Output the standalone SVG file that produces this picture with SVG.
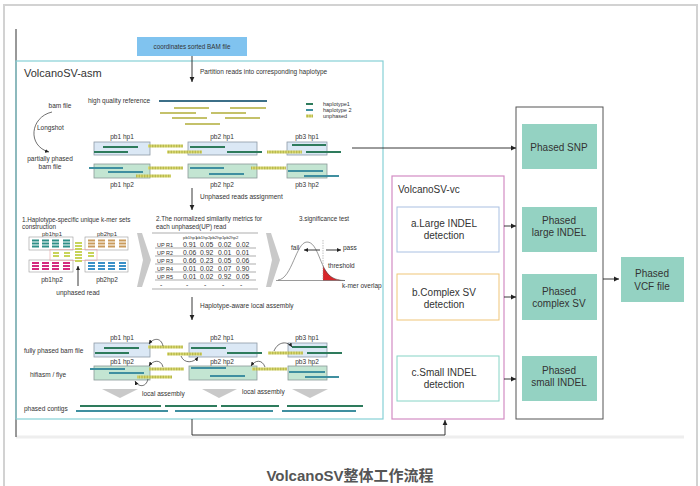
<svg xmlns="http://www.w3.org/2000/svg" width="700" height="486" viewBox="0 0 700 486">
<defs>
<marker id="ah" markerWidth="6" markerHeight="6" refX="5" refY="3" orient="auto" markerUnits="userSpaceOnUse"><path d="M0,0.6 L5,3 L0,5.4 z" fill="#222"/></marker>
<marker id="as" markerWidth="5" markerHeight="5" refX="4" refY="2.5" orient="auto" markerUnits="userSpaceOnUse"><path d="M0,0.5 L4,2.5 L0,4.5 z" fill="#222"/></marker>
<pattern id="st" patternUnits="userSpaceOnUse" width="1.6" height="4"><rect width="1.6" height="4" fill="#dede74"/><rect width="0.6" height="4" fill="#a3a33c"/></pattern>
</defs>
<style>
text{font-family:"Liberation Sans",Arial,sans-serif;fill:#333}
.s{font-size:6.5px}
.xs{font-size:5.5px}
.m{text-anchor:middle}
.h1{stroke:#2e7b5c;stroke-width:2}
.h2{stroke:#3f8fa0;stroke-width:2}
.rd{stroke:#c4c16a;stroke-width:2.2}
.up{fill:url(#st)}
.b1{fill:#dbe8f5;stroke:#8d9aa6;stroke-width:0.8}
.b2{fill:#c3e5d2;stroke:#8a9a98;stroke-width:0.8}
.ln{stroke:#222;stroke-width:0.9;fill:none}
.cv{stroke:#333;stroke-width:0.7;fill:none}
.out{fill:#94d2c2}
.big{font-size:10px}
.tl{stroke:#777;stroke-width:0.6}
.kb{fill:#fff;stroke:#9a9a9a;stroke-width:0.6}
.tri{fill:#c9c9c9}
</style>
<rect width="700" height="486" fill="#fff"/>
<rect x="4" y="5" width="693" height="492" fill="none" stroke="#d2d2d2" stroke-width="2"/>
<line x1="16" y1="437" x2="684" y2="437" stroke="#eeeeee" stroke-width="3"/>
<line x1="16" y1="29" x2="16" y2="437" stroke="#333" stroke-width="1"/>

<g id="input">
<rect x="137" y="37" width="110" height="19" fill="#80c3ef"/>
<text class="s m" x="192" y="49" style="font-size:6.3px">coordinates sorted BAM file</text>
</g>

<g id="asm">
<rect x="16" y="61" width="367" height="358" fill="none" stroke="#86d0d6" stroke-width="1.2"/>
<text x="24" y="77" style="font-size:11px">VolcanoSV-asm</text>
<text class="s" x="200" y="74">Partition reads into corresponding haplotype</text>

<text class="s m" x="60" y="108">bam file</text>
<path class="cv" d="M52,112 C30,117 27,146 49,152" marker-end="url(#as)"/>
<text class="s" x="37" y="130">Longshot</text>
<text class="s m" x="50" y="161">partially phased</text>
<text class="s m" x="50" y="169">bam file</text>

<text class="s" x="88" y="103">high quality reference</text>
<line x1="159" y1="101" x2="267" y2="101" stroke="#3c6f88" stroke-width="2"/>
<line class="rd" x1="174" y1="108" x2="209" y2="108"/><line class="rd" x1="230" y1="108" x2="266" y2="108"/>
<line class="rd" x1="160" y1="113" x2="196" y2="113"/><line class="rd" x1="211" y1="113" x2="246" y2="113"/>
<line class="rd" x1="172" y1="118" x2="207" y2="118"/><line class="rd" x1="225" y1="118" x2="260" y2="118"/>
<line class="rd" x1="185" y1="124" x2="220" y2="124"/>

<line class="h1" x1="306" y1="104" x2="313" y2="104"/>
<line class="h2" x1="306" y1="110" x2="313" y2="110"/>
<rect class="up" x="306" y="114.5" width="7" height="3"/>
<text class="xs" x="323" y="106">haplotype1</text>
<text class="xs" x="323" y="112">haplotype 2</text>
<text class="xs" x="323" y="118">unphased</text>

<text class="s m" x="122" y="139">pb1 hp1</text>
<text class="s m" x="222" y="139">pb2 hp1</text>
<text class="s m" x="307" y="139">pb3 hp1</text>
<rect class="b1" x="94" y="142" width="56" height="13"/>
<rect class="b1" x="188" y="142" width="69" height="13"/>
<rect class="b1" x="287" y="142" width="40" height="13"/>
<line class="h1" x1="103" y1="147" x2="138" y2="147"/><line class="h1" x1="94" y1="152" x2="128" y2="152"/>
<rect class="up" x="148" y="144.5" width="35" height="3"/><rect class="up" x="167" y="150.5" width="35" height="3"/>
<line class="h1" x1="190" y1="147" x2="225" y2="147"/><line class="h1" x1="227" y1="152" x2="262" y2="152"/>
<rect class="up" x="267" y="150.5" width="35" height="3"/>
<line class="h1" x1="292" y1="145" x2="326" y2="145"/><line class="h1" x1="306" y1="152" x2="341" y2="152"/>

<rect class="b2" x="94" y="164" width="56" height="14"/>
<rect class="b2" x="188" y="164" width="69" height="14"/>
<rect class="b2" x="287" y="164" width="40" height="14"/>
<line class="h2" x1="89" y1="168" x2="123" y2="168"/><line class="h2" x1="108" y1="172" x2="143" y2="172"/>
<rect class="up" x="136" y="174.5" width="35" height="3"/><rect class="up" x="148" y="166.5" width="35" height="3"/>
<line class="h2" x1="190" y1="168" x2="224" y2="168"/><line class="h2" x1="209" y1="174" x2="244" y2="174"/>
<rect class="up" x="251" y="166.5" width="35" height="3"/>
<line class="h2" x1="288" y1="171" x2="323" y2="171"/><line class="h2" x1="304" y1="176" x2="339" y2="176"/>
<text class="s m" x="122" y="187">pb1 hp2</text>
<text class="s m" x="222" y="187">pb2 hp2</text>
<text class="s m" x="307" y="187">pb3 hp2</text>

<text class="s" x="200" y="199">Unphased reads assignment</text>

<text class="s" x="22" y="221.5" style="font-size:6.3px">1.Haplotype-specific unique k-mer sets</text>
<text class="s" x="22" y="228.5" style="font-size:6.3px">construction</text>
<text class="m" x="52" y="235.8" style="font-size:6px">pb1hp1</text>
<text class="m" x="107" y="235.8" style="font-size:6px">pb2hp1</text>
<rect class="kb" x="29" y="237" width="44" height="13"/>
<rect class="kb" x="85" y="237" width="43" height="13"/>
<rect class="kb" x="29" y="260" width="44" height="12"/>
<rect class="kb" x="85" y="260" width="43" height="12"/>
<g fill="#2f8f88">
<rect x="32" y="239.5" width="7" height="2"/><rect x="32" y="242.5" width="7" height="2"/><rect x="32" y="245.5" width="7" height="2"/>
<rect x="42" y="239.5" width="7" height="2"/><rect x="42" y="242.5" width="7" height="2"/><rect x="42" y="245.5" width="7" height="2"/>
<rect x="52" y="239.5" width="7" height="2"/><rect x="52" y="242.5" width="7" height="2"/><rect x="52" y="245.5" width="7" height="2"/>
<rect x="63" y="239.5" width="7" height="2"/><rect x="63" y="242.5" width="7" height="2"/><rect x="63" y="245.5" width="7" height="2"/>
</g>
<g fill="#d42a80">
<rect x="32" y="262" width="7" height="2"/><rect x="32" y="265" width="7" height="2"/><rect x="32" y="268" width="7" height="2"/>
<rect x="42" y="262" width="7" height="2"/><rect x="42" y="265" width="7" height="2"/><rect x="42" y="268" width="7" height="2"/>
<rect x="52" y="262" width="7" height="2"/><rect x="52" y="265" width="7" height="2"/><rect x="52" y="268" width="7" height="2"/>
<rect x="63" y="262" width="7" height="2"/><rect x="63" y="265" width="7" height="2"/><rect x="63" y="268" width="7" height="2"/>
</g>
<g fill="#c99b5c">
<rect x="88" y="239.5" width="7" height="2"/><rect x="88" y="242.5" width="7" height="2"/><rect x="88" y="245.5" width="7" height="2"/>
<rect x="98" y="239.5" width="7" height="2"/><rect x="98" y="242.5" width="7" height="2"/><rect x="98" y="245.5" width="7" height="2"/>
<rect x="108" y="239.5" width="7" height="2"/><rect x="108" y="242.5" width="7" height="2"/><rect x="108" y="245.5" width="7" height="2"/>
<rect x="119" y="239.5" width="7" height="2"/><rect x="119" y="242.5" width="7" height="2"/><rect x="119" y="245.5" width="7" height="2"/>
</g>
<g fill="#3a90c8">
<rect x="88" y="262" width="7" height="2"/><rect x="88" y="265" width="7" height="2"/><rect x="88" y="268" width="7" height="2"/>
<rect x="98" y="262" width="7" height="2"/><rect x="98" y="265" width="7" height="2"/><rect x="98" y="268" width="7" height="2"/>
<rect x="108" y="262" width="7" height="2"/><rect x="108" y="265" width="7" height="2"/><rect x="108" y="268" width="7" height="2"/>
<rect x="119" y="262" width="7" height="2"/><rect x="119" y="265" width="7" height="2"/><rect x="119" y="268" width="7" height="2"/>
</g>
<rect x="50" y="249.5" width="47" height="11" fill="none" stroke="#e6a3a3" stroke-width="0.6"/>
<g fill="#c8d45a">
<rect x="75" y="242" width="7" height="2"/><rect x="75" y="245" width="7" height="2"/><rect x="75" y="248" width="7" height="2"/>
<rect x="75" y="251" width="7" height="2"/><rect x="75" y="254" width="7" height="2"/><rect x="75" y="257" width="7" height="2"/><rect x="75" y="260" width="7" height="2"/>
<rect x="53" y="252" width="6" height="2"/><rect x="53" y="255" width="6" height="2"/>
<rect x="64" y="252" width="6" height="2"/><rect x="64" y="255" width="6" height="2"/>
<rect x="88" y="252" width="6" height="2"/><rect x="88" y="255" width="6" height="2"/>
</g>
<text class="s m" x="52" y="282">pb1hp2</text>
<text class="s m" x="107" y="282">pb2hp2</text>
<line class="ln" x1="78" y1="286" x2="78" y2="266" stroke-width="0.6" marker-end="url(#as)"/>
<text class="s m" x="78" y="295">unphased read</text>

<polygon class="tri" points="137,233 142,233 151,260 142,287 137,287 143,260"/>
<polygon class="tri" points="266,233 271,233 280,260 271,287 266,287 272,260"/>

<text class="s" x="156" y="221" style="font-size:6.3px">2.The normalized similarity metrics for</text>
<text class="s" x="156" y="229" style="font-size:6.3px">each unphased(UP) read</text>
<line class="tl" x1="152" y1="233" x2="258" y2="233"/>
<g style="font-size:4.3px">
<text x="183" y="239">pb1hp1</text><text x="196" y="239">pb1hp2</text><text x="210" y="239">pb2hp1</text><text x="224" y="239">pb2hp2</text>
</g>
<g style="font-size:5.5px">
<text x="157" y="246.5">UP R1</text><text x="157" y="254.5">UP R2</text><text x="157" y="262.5">UP R3</text><text x="157" y="270.5">UP R4</text><text x="157" y="278.5">UP R5</text>
</g>
<g style="font-size:6.8px">
<text x="183" y="246.5">0.91</text><text x="200" y="246.5">0.05</text><text x="218" y="246.5">0.02</text><text x="236" y="246.5">0.02</text>
<text x="183" y="254.5">0.06</text><text x="200" y="254.5">0.92</text><text x="218" y="254.5">0.01</text><text x="236" y="254.5">0.01</text>
<text x="183" y="262.5">0.66</text><text x="200" y="262.5">0.23</text><text x="218" y="262.5">0.05</text><text x="236" y="262.5">0.06</text>
<text x="183" y="270.5">0.01</text><text x="200" y="270.5">0.02</text><text x="218" y="270.5">0.07</text><text x="236" y="270.5">0.90</text>
<text x="183" y="278.5">0.01</text><text x="200" y="278.5">0.02</text><text x="218" y="278.5">0.92</text><text x="236" y="278.5">0.05</text>
<text x="160" y="287">-</text><text x="186" y="287">-</text><text x="204" y="287">-</text><text x="222" y="287">-</text><text x="240" y="287">-</text>
</g>
<line class="tl" x1="155" y1="248" x2="256" y2="248"/>
<line class="tl" x1="155" y1="256" x2="256" y2="256"/>
<line class="tl" x1="155" y1="264" x2="256" y2="264"/>
<line class="tl" x1="155" y1="272" x2="256" y2="272"/>
<line class="tl" x1="155" y1="280" x2="256" y2="280"/>
<line class="tl" x1="152" y1="289" x2="258" y2="289"/>

<text class="s" x="299" y="221" style="font-size:6.3px">3.significance test</text>
<path d="M323,266 C327,273 331,278 337,279.5 C340,280 342,280.5 344,280.5 L323,280.5 Z" fill="#d8262a"/>
<path d="M278,280 C292,279 296,242 307,242 C318,242 320,268 330,276 C335,279.5 340,280.5 345,280.5" fill="none" stroke="#555" stroke-width="0.6"/>
<line x1="276" y1="280.5" x2="345" y2="280.5" stroke="#555" stroke-width="0.6"/>
<line x1="323" y1="240" x2="323" y2="280" stroke="#999" stroke-width="0.6" stroke-dasharray="1.5 1"/>
<text class="s" x="291" y="250">fail</text>
<line class="ln" x1="320" y1="250" x2="304" y2="250" stroke-width="0.6" marker-end="url(#as)"/>
<line class="ln" x1="326" y1="250" x2="341" y2="250" stroke-width="0.6" marker-end="url(#as)"/>
<text class="s" x="343" y="250">pass</text>
<text class="s" x="328" y="268">threshold</text>
<text class="s" x="342" y="288">k-mer overlap</text>

<text class="s" x="200" y="308">Haplotype-aware local assembly</text>

<text class="s" x="24" y="353">fully phased bam file</text>
<text class="s" x="30" y="377">hifiasm / flye</text>
<text class="s" x="24" y="411">phased contigs</text>
<text class="s m" x="122" y="340">pb1 hp1</text>
<text class="s m" x="222" y="340">pb2 hp1</text>
<text class="s m" x="307" y="340">pb3 hp1</text>
<text class="s m" x="122" y="364">pb1 hp2</text>
<text class="s m" x="222" y="364">pb2 hp2</text>
<text class="s m" x="307" y="364">pb3 hp2</text>
<rect class="b1" x="94" y="343" width="56" height="14"/>
<rect class="b1" x="189" y="343" width="68" height="14"/>
<rect class="b1" x="288" y="343" width="39" height="14"/>
<rect class="b2" x="94" y="366" width="56" height="14"/>
<rect class="b2" x="189" y="366" width="68" height="14"/>
<rect class="b2" x="288" y="366" width="39" height="14"/>
<line class="h1" x1="104" y1="348" x2="139" y2="348"/><line class="h1" x1="95" y1="353" x2="129" y2="353"/>
<rect class="up" x="148" y="345.5" width="35" height="3"/><rect class="up" x="167" y="352.5" width="35" height="3"/>
<line class="h1" x1="191" y1="348" x2="226" y2="348"/><line class="h1" x1="227" y1="353" x2="262" y2="353"/>
<rect class="up" x="268" y="351.5" width="35" height="3"/>
<line class="h1" x1="292" y1="347" x2="327" y2="347"/><line class="h1" x1="307" y1="353" x2="342" y2="353"/>
<line class="h2" x1="90" y1="369" x2="125" y2="369"/><line class="h2" x1="109" y1="373" x2="144" y2="373"/>
<rect class="up" x="149" y="367.5" width="35" height="3"/><rect class="up" x="137" y="375.5" width="35" height="3"/>
<line class="h2" x1="191" y1="368" x2="226" y2="368"/><line class="h2" x1="210" y1="376" x2="245" y2="376"/>
<rect class="up" x="252" y="367.5" width="35" height="3"/>
<line class="h2" x1="289" y1="372" x2="325" y2="372"/><line class="h2" x1="305" y1="377" x2="339" y2="377"/>
<path class="cv" d="M163,346 C161,337 153,338 149,344" marker-end="url(#as)"/>
<path class="cv" d="M181,356 C184,364 194,363 198,357" marker-end="url(#as)"/>
<path class="cv" d="M274,351 C278,341 288,341 292,347" marker-end="url(#as)"/>
<path class="cv" d="M163,367 C161,359 153,360 149,366" marker-end="url(#as)"/>
<path class="cv" d="M148,379 C146,388 138,387 135,381" marker-end="url(#as)"/>
<path class="cv" d="M265,367 C262,359 255,360 251,366" marker-end="url(#as)"/>
<polygon class="tri" points="102,389 138,389 120,398"/>
<polygon class="tri" points="202,389 237,389 219,398"/>
<polygon class="tri" points="292,389 328,389 310,398"/>
<text class="s" x="142" y="396">local assembly</text>
<text class="s" x="242" y="394">local assembly</text>
<line class="h1" x1="80" y1="406" x2="161" y2="406"/><line class="h1" x1="165" y1="406" x2="217" y2="406"/>
<line class="h1" x1="221" y1="406" x2="279" y2="406"/><line class="h1" x1="287" y1="406" x2="363" y2="406"/>
<line class="h2" x1="76" y1="411" x2="168" y2="411"/><line class="h2" x1="175" y1="411" x2="273" y2="411"/>
<line class="h2" x1="282" y1="411" x2="356" y2="411"/>
</g>

<g id="vc">
<rect x="392" y="176" width="112" height="243" fill="none" stroke="#d38cc3" stroke-width="1.2"/>
<text class="big" x="398" y="193">VolcanoSV-vc</text>
</g>
<g id="vc-a">
<rect x="397" y="207" width="102" height="45" fill="#fff" stroke="#a9c0e2" stroke-width="1"/>
<text class="big m" x="444" y="227">a.Large INDEL</text>
<text class="big m" x="444" y="239">detection</text>
</g>
<g id="vc-b">
<rect x="397" y="274" width="102" height="46" fill="#fff" stroke="#efc578" stroke-width="1"/>
<text class="big m" x="444" y="296">b.Complex SV</text>
<text class="big m" x="444" y="308">detection</text>
</g>
<g id="vc-c">
<rect x="397" y="356" width="102" height="45" fill="#fff" stroke="#86d4c6" stroke-width="1"/>
<text class="big m" x="444" y="376">c.Small INDEL</text>
<text class="big m" x="444" y="388">detection</text>
</g>
<g id="outputs">
<rect x="516" y="107" width="87" height="312" fill="none" stroke="#555" stroke-width="1"/>
</g>
<g id="snp">
<rect class="out" x="522" y="124" width="75" height="45"/>
<text class="big m" x="559" y="151">Phased SNP</text>
</g>
<g id="large">
<rect class="out" x="522" y="207" width="75" height="45"/>
<text class="big m" x="559" y="224">Phased</text>
<text class="big m" x="559" y="236">large INDEL</text>
</g>
<g id="complex">
<rect class="out" x="522" y="274" width="75" height="46"/>
<text class="big m" x="559" y="295">Phased</text>
<text class="big m" x="559" y="307">complex SV</text>
</g>
<g id="small">
<rect class="out" x="522" y="356" width="75" height="45"/>
<text class="big m" x="559" y="374">Phased</text>
<text class="big m" x="559" y="386">small INDEL</text>
</g>
<g id="vcf">
<rect class="out" x="621" y="257" width="63" height="45"/>
<text class="big m" x="652" y="277">Phased</text>
<text class="big m" x="652" y="290">VCF file</text>
</g>

<g id="connectors">
<line class="ln" x1="192" y1="56" x2="192" y2="82" marker-end="url(#ah)"/>
<line class="ln" x1="192" y1="188" x2="192" y2="210" marker-end="url(#ah)"/>
<line class="ln" x1="192" y1="297" x2="192" y2="320" marker-end="url(#ah)"/>
<line class="ln" x1="352" y1="148" x2="516" y2="148" marker-end="url(#ah)"/>
<path class="ln" d="M192,419 V435 H445 V420" marker-end="url(#ah)"/>
<line class="ln" x1="504" y1="226" x2="516" y2="226" marker-end="url(#ah)"/>
<line class="ln" x1="504" y1="297" x2="516" y2="297" marker-end="url(#ah)"/>
<line class="ln" x1="504" y1="379" x2="516" y2="379" marker-end="url(#ah)"/>
<line class="ln" x1="603" y1="279" x2="619" y2="279" marker-end="url(#ah)"/>
</g>

<text x="350" y="481" text-anchor="middle" style="font-family:'Liberation Sans','Noto Sans CJK SC',sans-serif;font-size:15px;font-weight:bold;fill:#555">VolcanoSV整体工作流程</text>
</svg>
